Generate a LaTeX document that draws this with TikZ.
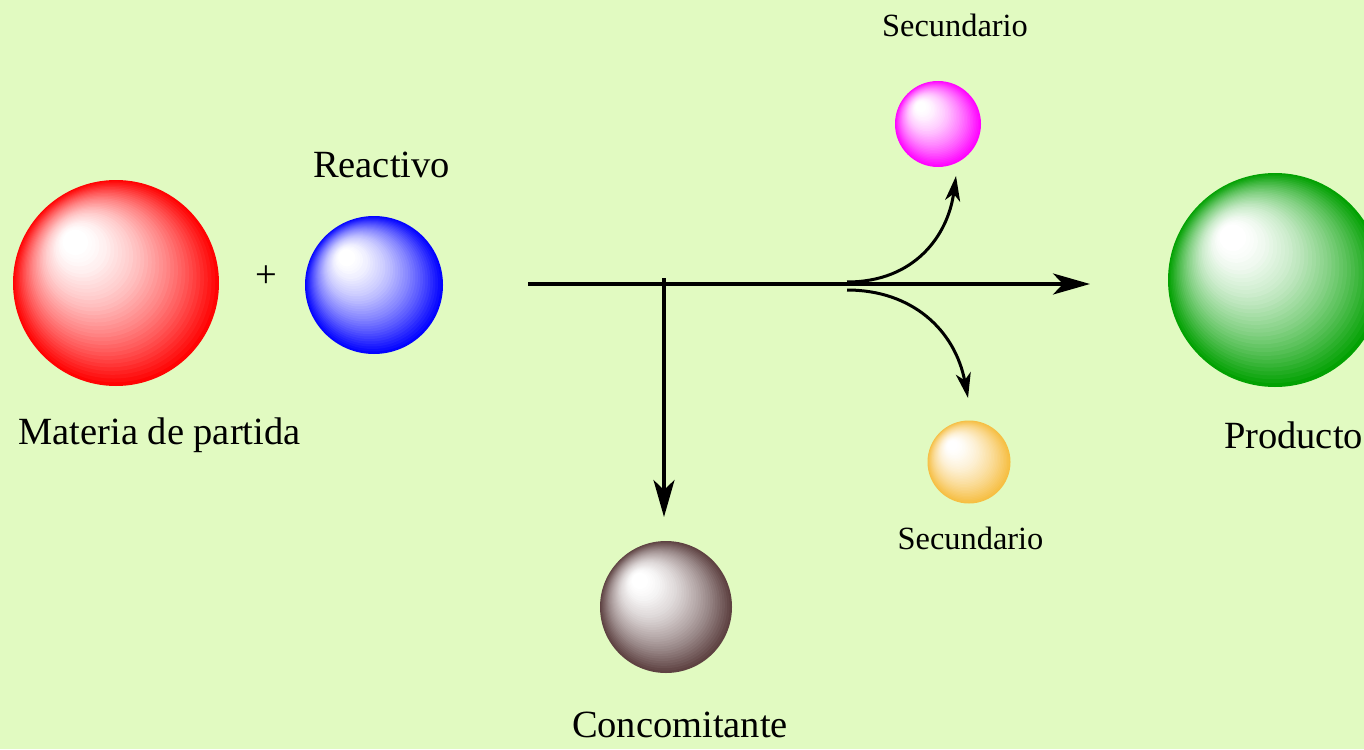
\documentclass[tikz,border=0pt]{standalone}
\usepackage{fontspec}
\setmainfont{Liberation Serif}
\usetikzlibrary{arrows.meta}
\definecolor{bg}{HTML}{E1FAC1}
\definecolor{sred}{HTML}{FF0000}
\definecolor{sblue}{HTML}{0000FF}
\definecolor{smag}{HTML}{FF00FF}
\definecolor{sorange}{HTML}{F6BE41}
\definecolor{sbrown}{HTML}{5C4040}
\definecolor{sgreen}{HTML}{00A000}
\newcommand\drawsphere[5]{%
  \foreach \i in {40,39,...,1}{%
    \pgfmathsetmacro\tt{\i/40}%
    \pgfmathtruncatemacro\pp{100*(max(0,(\tt-0.08)/0.92))^1.6}%
    \fill[#5!\pp!white] ({#2-0.45*#4*(1-\tt)},{#3-0.45*#4*(1-\tt)}) circle ({\tt*#4 pt});
  }%
  \node[circle, minimum size=2*#4 pt, inner sep=0pt] (#1) at (#2,#3) {};
}
\tikzset{
  bigtxt/.style={font=\fontsize{38.5}{42}\selectfont, anchor=base, inner sep=0pt},
  smalltxt/.style={font=\fontsize{32.4}{36}\selectfont, anchor=base, inner sep=0pt},
  mainarrow/.style={line width=3.6pt, -{Stealth[length=37pt, width=21pt, inset=10pt]}},
  sidearrow/.style={line width=3pt, -{Stealth[length=25pt, width=15pt, inset=7pt]}},
}
\begin{document}
\begin{tikzpicture}[x=1pt, y=-1pt]
\useasboundingbox (0,0) rectangle (1364,749);
\clip (0,0) rectangle (1364,749);
\fill[bg] (0,0) rectangle (1364,749);

\drawsphere{mp}{116}{283}{103}{sred}
\drawsphere{re}{374}{285}{69}{sblue}
\drawsphere{s1}{938}{124}{43}{smag}
\drawsphere{s2}{969}{462}{41.5}{sorange}
\drawsphere{co}{666}{607}{66}{sbrown}
\drawsphere{pr}{1275}{280}{107}{sgreen}

\node[bigtxt] (tmp) at (159.5,444) {Materia de partida};
\node[bigtxt] (tre) at (381.5,177) {Reactivo};
\node[font=\fontsize{38.5}{42}\selectfont, inner sep=0pt] (plus) at (266,277) {+};
\node[smalltxt] (ts1) at (955,37) {Secundario};
\node[smalltxt] (ts2) at (970.5,549) {Secundario};
\node[bigtxt] (tco) at (680,737) {Concomitante};
\node[bigtxt] (tpr) at (1293.5,448) {Producto};

\coordinate (start) at (528,284);
\coordinate (mainend) at (1090,284);
\coordinate (branch) at (664,278);
\coordinate (concend) at (664,517);
\coordinate (up0) at (847,282);
\coordinate (up1) at (956,176);
\coordinate (dn0) at (847,290);
\coordinate (dn1) at (968,398);

\draw[mainarrow] (start) -- (mainend);
\draw[mainarrow] (branch) -- (concend);
\draw[sidearrow] (up0) .. controls (915,282) and (948,235) .. (up1);
\draw[sidearrow] (dn0) .. controls (912,290) and (955,330) .. (dn1);
\end{tikzpicture}
\end{document}
